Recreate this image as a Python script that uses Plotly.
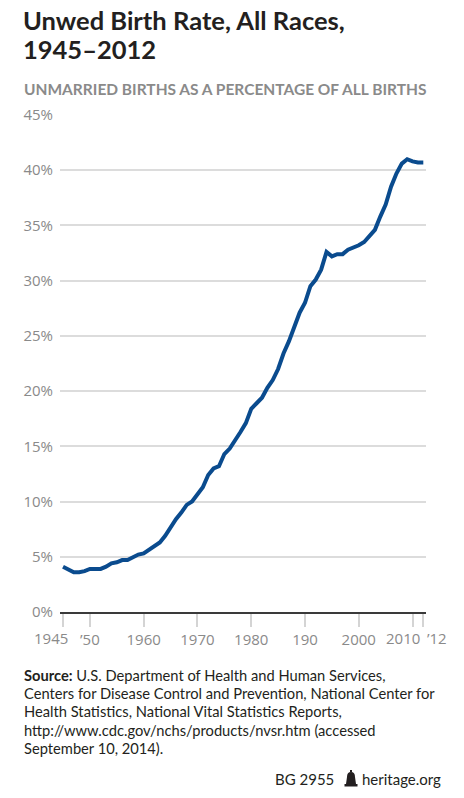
import plotly.graph_objects as go

# US births to unmarried women, percent of all births
years = list(range(1945, 2013))
pct_unmarried = [
    4.1, 3.8, 3.6, 3.6, 3.7, 3.9, 3.9, 3.9, 4.1, 4.4,   # 1945-1954
    4.5, 4.7, 4.7, 5.0, 5.2, 5.3, 5.6, 5.9, 6.3, 6.9,   # 1955-1964
    7.7, 8.4, 9.0, 9.7, 10.0, 10.7, 11.3, 12.4, 13.0, 13.2,  # 1965-1974
    14.3, 14.8, 15.5, 16.3, 17.1, 18.4, 18.9, 19.4, 20.3, 21.0,  # 1975-1984
    22.0, 23.4, 24.5, 25.7, 27.1, 28.0, 29.5, 30.1, 31.0, 32.6,  # 1985-1994
    32.2, 32.4, 32.4, 32.8, 33.0, 33.2, 33.5, 34.0, 34.6, 35.8,  # 1995-2004
    36.9, 38.5, 39.7, 40.6, 41.0, 40.8, 40.7, 40.7,  # 2005-2012
]
x_tickvals = [1945, 1950, 1960, 1970, 1980, 1990, 2000, 2010, 2012]
x_ticktext = ["1945", "’50", "1960", "1970", "1980", "190", "2000", "2010", "’12"]
y_tickvals = [0, 5, 10, 15, 20, 25, 30, 35, 40, 45]
y_ticktext = [f"{v}%" for v in y_tickvals]

source_lines = [
    "<b>Source:</b> U.S. Department of Health and Human Services,",
    "Centers for Disease Control and Prevention, National Center for",
    "Health Statistics, National Vital Statistics Reports,",
    "http://www.cdc.gov/nchs/products/nvsr.htm (accessed",
    "September 10, 2014).",
]

# end labels sit off their ticks in the original, so they go in as annotations
label_shift = {0: -12, 7: -10, 8: 14}

W, H = 464, 798
L, R, T, B = 60, 426, 115, 612


def px(x):  # page pixel -> paper x
    return (x - L) / (R - L)


def py(y):  # page pixel -> paper y
    return (B - y) / (B - T)


GREY = "#8a8a8a"
DARK = "#231f20"
BLUE = "#0a4b8e"
xrange = [1944.44, 2012.5]

fig = go.Figure()
fig.add_trace(go.Scatter(
    x=years, y=pct_unmarried, mode="lines",
    line=dict(color=BLUE, width=4), hoverinfo="x+y", showlegend=False,
))

axis_text = [t if i not in label_shift else "" for i, t in enumerate(x_ticktext)]

fig.update_layout(
    width=W, height=H,
    margin=dict(l=L, r=W - R, t=T, b=H - B, autoexpand=False),
    paper_bgcolor="white", plot_bgcolor="white",
    font=dict(family="Open Sans", color=GREY, size=15),
    xaxis=dict(
        range=xrange, tickmode="array", tickvals=x_tickvals, ticktext=axis_text,
        ticks="outside", ticklen=13, tickwidth=1.5, tickcolor="#d4d4d4",
        tickangle=0, automargin=False,
        showgrid=False, zeroline=False,
        showline=True, linecolor="#3a3a3a", linewidth=1.5,
        tickfont=dict(family="Open Sans", size=15, color=GREY),
        fixedrange=True,
    ),
    xaxis2=dict(
        range=xrange, overlaying="x", anchor="y", side="bottom",
        tickmode="array", tickvals=years, ticks="inside", ticklen=12,
        tickwidth=1, tickcolor="#d4d4d4", showticklabels=False,
        showgrid=False, zeroline=False, showline=False, automargin=False,
    ),
    yaxis=dict(
        range=[0, 45], tickmode="array", tickvals=y_tickvals, ticktext=y_ticktext,
        showgrid=True, gridcolor="#dcdcdc", gridwidth=1.5, zeroline=False,
        ticks="", ticklabelstandoff=6, automargin=False,
        tickfont=dict(family="Open Sans", size=15, color=GREY),
        fixedrange=True,
    ),
)

anns = [
    dict(text="<b>Unwed Birth Rate, All Races,</b>", x=px(21), y=py(20),
         xanchor="left", yanchor="middle",
         font=dict(family="Lato", size=25.5, color=DARK)),
    dict(text="<b>1945–2012</b>", x=px(21), y=py(49),
         xanchor="left", yanchor="middle",
         font=dict(family="Lato", size=25.5, color=DARK)),
    dict(text="<b>UNMARRIED BIRTHS AS A PERCENTAGE OF ALL BIRTHS</b>",
         x=px(22), y=py(89), xanchor="left", yanchor="middle",
         font=dict(family="Lato", size=15.5, color=GREY)),
    dict(text="BG 2955", x=px(336), y=py(779), xanchor="right", yanchor="middle",
         font=dict(family="Lato", size=15, color=DARK)),
    dict(text="heritage.org", x=px(443), y=py(779), xanchor="right", yanchor="middle",
         font=dict(family="Lato", size=15, color=DARK)),
]
for i, line in enumerate(source_lines):
    anns.append(dict(text=line, x=px(22), y=py(675 + 18.2 * i),
                     xanchor="left", yanchor="middle", align="left",
                     font=dict(family="Lato", size=14.7, color=DARK)))
for a in anns:
    a.update(xref="paper", yref="paper")
for i, shift in label_shift.items():
    anns.append(dict(text=x_ticktext[i], x=x_tickvals[i], xref="x",
                     y=py(638), yref="paper", xanchor="center", yanchor="middle",
                     xshift=shift,
                     font=dict(family="Open Sans", size=15, color=GREY)))
for a in anns:
    a.update(showarrow=False)
fig.update_layout(annotations=anns)

# little bell logo in the footer
bell = (f"M {px(346)},{py(784)} L {px(347)},{py(777)} "
        f"Q {px(347)},{py(772)} {px(351)},{py(772)} "
        f"Q {px(355)},{py(772)} {px(355)},{py(777)} "
        f"L {px(356)},{py(784)} Z")
fig.add_shape(type="path", path=bell, xref="paper", yref="paper",
              fillcolor=DARK, line=dict(width=0))
fig.add_shape(type="rect", x0=px(344.5), x1=px(357.5), y0=py(786.5), y1=py(784),
              xref="paper", yref="paper", fillcolor=DARK, line=dict(width=0))
fig.add_shape(type="rect", x0=px(350), x1=px(352), y0=py(772), y1=py(770),
              xref="paper", yref="paper", fillcolor=DARK, line=dict(width=0))

# drop the browser's default 8px body margin so the figure fills the window
fig.write_html("out.html", config={"displayModeBar": False},
               post_script="document.body.style.margin = '0';")
